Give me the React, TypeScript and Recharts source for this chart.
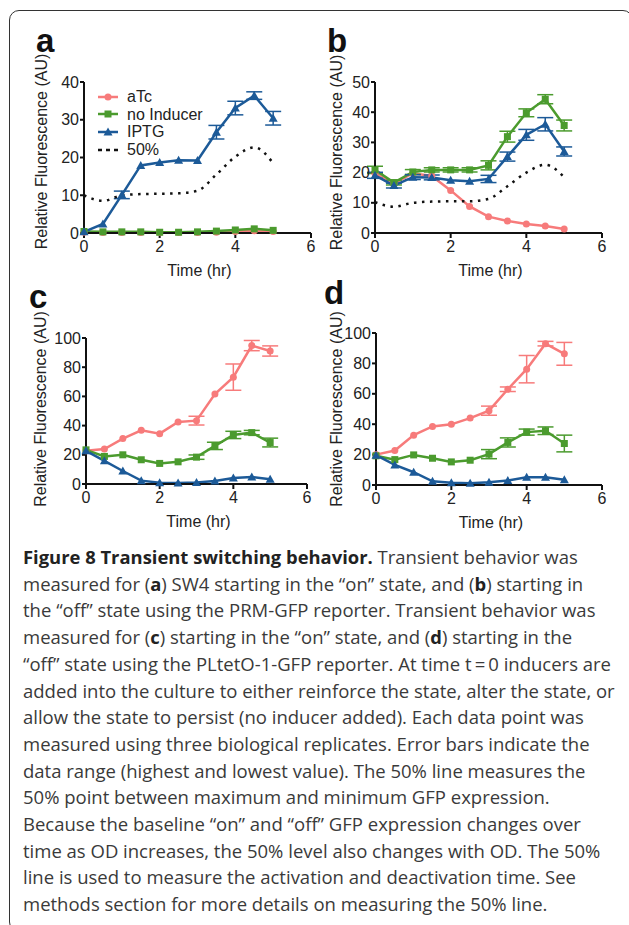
import React from 'react';
import { LineChart, Line, XAxis, YAxis, ErrorBar, Legend } from 'recharts';

// time points (hr)
const time = [0, 0.5, 1, 1.5, 2, 2.5, 3, 3.5, 4, 4.5, 5];
const xTicks = [0, 2, 4, 6];

// panel a
const aTcA = [0.2, 0.1, 0.1, 0.1, 0.1, 0.1, 0.1, 0.2, 0.4, 0.6, 0.4];
const noIndA = [0.4, 0.3, 0.3, 0.3, 0.2, 0.2, 0.3, 0.5, 0.8, 1.1, 0.7];
const iptgA = [0.3, 2.4, 10.1, 17.9, 18.7, 19.3, 19.2, 26.7, 33.1, 36.4, 30.4];
const iptgErrA = [0, 0, 1, 0, 0, 0, 0, 1.8, 1.8, 1, 1.8];
const halfA = [10, 8.5, 10, 10.3, 10.4, 10.5, 11.2, 15.5, 20.2, 22.7, 18.5];
const yTicksA = [0, 10, 20, 30, 40];

// panel b
const aTcB = [19.8, 16.3, 19.8, 18.9, 14.1, 8.8, 5.4, 4.0, 3.0, 2.3, 1.3];
const noIndB = [20.9, 16.7, 20.2, 20.9, 20.9, 20.9, 22.4, 31.9, 39.8, 44.3, 35.6];
const noIndErrB = [1.2, 0.8, 0.8, 0.7, 0.7, 0.7, 1.5, 1.8, 1.3, 1.5, 1.8];
const iptgB = [19.1, 15.7, 18.5, 18.4, 17.5, 17.1, 17.9, 25.3, 32.5, 36, 27];
const iptgErrB = [1, 0.8, 0.8, 0.8, 0, 0, 1.2, 1.5, 1.8, 2.2, 1.5];
const halfB = [10.2, 8.7, 10, 10.4, 10.5, 10.5, 11.3, 15.5, 20, 22.6, 18.5];
const yTicksB = [0, 10, 20, 30, 40, 50];

// panel c
const aTcC = [22.7, 23.9, 31.1, 36.8, 34.5, 42.5, 43.4, 61.6, 73.2, 94.8, 91.1];
const aTcErrC = [0, 0, 0, 0, 0, 0, 3, 0, 9, 3.5, 3.5];
const noIndC = [23.4, 18.9, 20, 16.6, 14.1, 15.2, 18.4, 26.1, 33.6, 35.2, 28.4];
const noIndErrC = [0, 0, 0, 0, 0, 0, 1.5, 2.5, 2.5, 1.5, 3];
const iptgC = [22.7, 15.9, 8.9, 2.3, 0.9, 0.7, 1.1, 2, 4.1, 4.8, 3.2];
const yTicksC = [0, 20, 40, 60, 80, 100];

// panel d
const aTcD = [20, 22.7, 32.8, 38.5, 39.9, 44, 48.9, 63, 76.2, 93, 86.3];
const aTcErrD = [0, 0, 0, 0, 0, 0, 3, 1.5, 9, 1.5, 7.5];
const noIndD = [19.2, 16.7, 19.8, 17.6, 15.2, 16.3, 20.3, 28, 34.8, 35.7, 27.3];
const noIndErrD = [0, 0, 0, 0, 0, 0, 3, 3, 2, 2.5, 5.5];
const iptgD = [19.6, 13.2, 8.4, 2.4, 1.5, 1.1, 1.8, 2.9, 5.1, 5.1, 3.5];
const yTicksD = [0, 20, 40, 60, 80, 100];

const legendOrder = ['atc', 'noInd', 'iptg', 'half'];

const PINK = '#F77B7B';
const GREEN = '#4B9B2E';
const BLUE = '#1C5A98';
const FONT = '"Liberation Sans", Arial, Helvetica, sans-serif';

const circleDot = (color: string) => (p: any) => (
  <circle key={`c${p.index}`} cx={p.cx} cy={p.cy} r={3.5} fill={color} />
);
const squareDot = (color: string) => (p: any) => (
  <rect key={`s${p.index}`} x={p.cx - 3.5} y={p.cy - 3.5} width={7} height={7} fill={color} />
);
const triDot = (color: string) => (p: any) => (
  <path
    key={`t${p.index}`}
    d={`M${p.cx},${p.cy - 4.5}L${p.cx + 4.5},${p.cy + 3.5}L${p.cx - 4.5},${p.cy + 3.5}Z`}
    fill={color}
  />
);

const legendMarks: Record<string, (x: number, y: number) => React.ReactNode> = {
  atc: (x, y) => <circle cx={x} cy={y} r={3.5} fill={PINK} />,
  noInd: (x, y) => <rect x={x - 3.5} y={y - 3.5} width={7} height={7} fill={GREEN} />,
  iptg: (x, y) => <path d={`M${x},${y - 4.5}L${x + 4.5},${y + 3.5}L${x - 4.5},${y + 3.5}Z`} fill={BLUE} />,
};

function LegendBox(props: any) {
  const items = [...(props.payload || [])].sort(
    (a: any, b: any) => legendOrder.indexOf(a.dataKey) - legendOrder.indexOf(b.dataKey)
  );
  return (
    <div style={{ fontFamily: FONT, fontSize: 16, color: '#222', lineHeight: '17.6px' }}>
      {items.map((e: any) => (
        <div key={e.dataKey} style={{ display: 'flex', alignItems: 'center', height: 17.6 }}>
          <svg width={30} height={14} style={{ marginRight: 2 }}>
            <line
              x1={3}
              x2={23}
              y1={7}
              y2={7}
              stroke={e.color}
              strokeWidth={2.5}
              strokeDasharray={e.dataKey === 'half' ? '4 4' : undefined}
            />
            {legendMarks[e.dataKey] ? legendMarks[e.dataKey](13, 7) : null}
          </svg>
          <span>{e.value}</span>
        </div>
      ))}
    </div>
  );
}

type PanelCfg = {
  letter: string;
  left: number;
  top: number;
  width: number;
  height: number;
  margin: { top: number; right: number; bottom: number; left: number };
  yMax: number;
  yTicks: number[];
  atc: number[];
  atcErr?: number[];
  noInd: number[];
  noIndErr?: number[];
  iptg: number[];
  iptgErr?: number[];
  half?: number[];
  legend?: boolean;
  yLabelDx: number;
  yLabelDy: number;
  letterPos: { x: number; y: number };
};

const Y_AXIS_W = 60;

function Panel({ cfg }: { cfg: PanelCfg }) {
  const rows = time.map((t, i) => ({
    t,
    atc: cfg.atc[i],
    atcErr: cfg.atcErr ? cfg.atcErr[i] : 0,
    noInd: cfg.noInd[i],
    noIndErr: cfg.noIndErr ? cfg.noIndErr[i] : 0,
    iptg: cfg.iptg[i],
    iptgErr: cfg.iptgErr ? cfg.iptgErr[i] : 0,
    half: cfg.half ? cfg.half[i] : null,
  }));

  const yLabel = (p: any) => {
    const vb = p.viewBox;
    const cx = vb.x + vb.width + cfg.yLabelDx;
    const cy = vb.y + vb.height / 2 + cfg.yLabelDy;
    return (
      <text
        x={cx}
        y={cy}
        transform={`rotate(-90 ${cx} ${cy})`}
        textAnchor="middle"
        dominantBaseline="central"
        fontFamily={FONT}
        fontSize={16}
        fill="#222"
      >
        Relative Fluorescence (AU)
      </text>
    );
  };

  const xLabel = (p: any) => {
    const vb = p.viewBox;
    return (
      <text
        x={vb.x + vb.width / 2 + 2}
        y={vb.y + 37}
        textAnchor="middle"
        dominantBaseline="central"
        fontFamily={FONT}
        fontSize={16}
        fill="#222"
      >
        Time (hr)
      </text>
    );
  };

  const tickStyle = { fontSize: 16, fill: '#222', fontFamily: FONT };

  return (
    <div style={{ position: 'absolute', left: cfg.left, top: cfg.top }}>
      <LineChart width={cfg.width} height={cfg.height} data={rows} margin={cfg.margin}>
        <XAxis
          dataKey="t"
          type="number"
          domain={[0, 6]}
          ticks={xTicks}
          height={30}
          stroke="#111"
          strokeWidth={2}
          tickSize={5}
          tickMargin={3}
          tick={tickStyle}
          label={xLabel}
        />
        <YAxis
          type="number"
          domain={[0, cfg.yMax]}
          ticks={cfg.yTicks}
          width={Y_AXIS_W}
          stroke="#111"
          strokeWidth={2}
          tickSize={4}
          tickMargin={1}
          tick={tickStyle}
          label={yLabel}
        />
        <Line
          dataKey="atc"
          name="aTc"
          stroke={PINK}
          strokeWidth={2.5}
          dot={circleDot(PINK)}
          isAnimationActive={false}
        >
          <ErrorBar dataKey="atcErr" direction="y" width={8} strokeWidth={1.5} stroke={PINK} />
        </Line>
        <Line
          dataKey="noInd"
          name="no Inducer"
          stroke={GREEN}
          strokeWidth={2.5}
          dot={squareDot(GREEN)}
          isAnimationActive={false}
        >
          <ErrorBar dataKey="noIndErr" direction="y" width={8} strokeWidth={1.5} stroke={GREEN} />
        </Line>
        <Line
          dataKey="iptg"
          name="IPTG"
          stroke={BLUE}
          strokeWidth={2.5}
          dot={triDot(BLUE)}
          isAnimationActive={false}
        >
          <ErrorBar dataKey="iptgErr" direction="y" width={8} strokeWidth={1.5} stroke={BLUE} />
        </Line>
        {cfg.half ? (
          <Line
            dataKey="half"
            name="50%"
            type="monotone"
            stroke="#111"
            strokeWidth={2.5}
            strokeDasharray="2.5 5.5"
            dot={false}
            isAnimationActive={false}
          />
        ) : null}
        {cfg.legend ? (
          <Legend
            layout="vertical"
            align="center"
            verticalAlign="middle"
            content={LegendBox}
            wrapperStyle={{ left: 95, top: 68, width: 'auto', height: 'auto' }}
          />
        ) : null}
      </LineChart>
      <div
        style={{
          position: 'absolute',
          left: cfg.letterPos.x,
          top: cfg.letterPos.y,
          fontFamily: FONT,
          fontWeight: 'bold',
          fontSize: 33,
          lineHeight: '33px',
          color: '#111',
        }}
      >
        {cfg.letter}
      </div>
    </div>
  );
}

const panels: PanelCfg[] = [
  {
    letter: 'a',
    left: 0,
    top: 20,
    width: 320,
    height: 270,
    margin: { top: 62, right: 9, bottom: 27, left: 84 - Y_AXIS_W },
    yMax: 40,
    yTicks: yTicksA,
    atc: aTcA,
    noInd: noIndA,
    iptg: iptgA,
    iptgErr: iptgErrA,
    half: halfA,
    legend: true,
    yLabelDx: -43,
    yLabelDy: -6,
    letterPos: { x: 36, y: 4 },
  },
  {
    letter: 'b',
    left: 295,
    top: 20,
    width: 320,
    height: 270,
    margin: { top: 62, right: 13, bottom: 27, left: 80 - Y_AXIS_W },
    yMax: 50,
    yTicks: yTicksB,
    atc: aTcB,
    noInd: noIndB,
    noIndErr: noIndErrB,
    iptg: iptgB,
    iptgErr: iptgErrB,
    half: halfB,
    yLabelDx: -39,
    yLabelDy: -5,
    letterPos: { x: 32, y: 4 },
  },
  {
    letter: 'c',
    left: 0,
    top: 280,
    width: 320,
    height: 265,
    margin: { top: 58, right: 13, bottom: 31, left: 86 - Y_AXIS_W },
    yMax: 100,
    yTicks: yTicksC,
    atc: aTcC,
    atcErr: aTcErrC,
    noInd: noIndC,
    noIndErr: noIndErrC,
    iptg: iptgC,
    yLabelDx: -46,
    yLabelDy: -2,
    letterPos: { x: 29, y: 0 },
  },
  {
    letter: 'd',
    left: 295,
    top: 280,
    width: 320,
    height: 265,
    margin: { top: 53, right: 13, bottom: 30, left: 81 - Y_AXIS_W },
    yMax: 100,
    yTicks: yTicksD,
    atc: aTcD,
    atcErr: aTcErrD,
    noInd: noIndD,
    noIndErr: noIndErrD,
    iptg: iptgD,
    yLabelDx: -40,
    yLabelDy: 0,
    letterPos: { x: 29, y: -4 },
  },
];

const B = ({ children }: { children: React.ReactNode }) => (
  <b style={{ fontWeight: 'bold', color: '#222', fontSize: 18.4 }}>{children}</b>
);

const captionLines: React.ReactNode[] = [
  <>
    <B>Figure 8 Transient switching behavior.</B> Transient behavior was
  </>,
  <>
    measured for (<B>a</B>) SW4 starting in the “on” state, and (<B>b</B>) starting in
  </>,
  <>the “off” state using the PRM-GFP reporter. Transient behavior was</>,
  <>
    measured for (<B>c</B>) starting in the “on” state, and (<B>d</B>) starting in the
  </>,
  <>“off” state using the PLtetO-1-GFP reporter. At time t{'\u2009'}={'\u2009'}0 inducers are</>,
  <>added into the culture to either reinforce the state, alter the state, or</>,
  <>allow the state to persist (no inducer added). Each data point was</>,
  <>measured using three biological replicates. Error bars indicate the</>,
  <>data range (highest and lowest value). The 50% line measures the</>,
  <>50% point between maximum and minimum GFP expression.</>,
  <>Because the baseline “on” and “off” GFP expression changes over</>,
  <>time as OD increases, the 50% level also changes with OD. The 50%</>,
  <>line is used to measure the activation and deactivation time. See</>,
  <>methods section for more details on measuring the 50% line.</>,
];

export default function App() {
  return (
    <div
      style={{
        position: 'absolute',
        left: 0,
        top: 0,
        width: 629,
        height: 925,
        overflow: 'hidden',
        background: '#fff',
      }}
    >
      <div
        style={{
          position: 'absolute',
          left: 9,
          top: 10,
          width: 622,
          height: 920,
          border: '1.5px solid #333',
          borderRadius: 10,
        }}
      />
      {panels.map((p) => (
        <Panel key={p.letter} cfg={p} />
      ))}
      <div
        style={{
          position: 'absolute',
          left: 23,
          top: 544,
          fontFamily: '"Open Sans", "Noto Sans", sans-serif',
          fontSize: 18.5,
          lineHeight: '26.7px',
          color: '#3a3a3a',
          whiteSpace: 'nowrap',
        }}
      >
        {captionLines.map((l, i) => (
          <div key={i}>{l}</div>
        ))}
      </div>
    </div>
  );
}
